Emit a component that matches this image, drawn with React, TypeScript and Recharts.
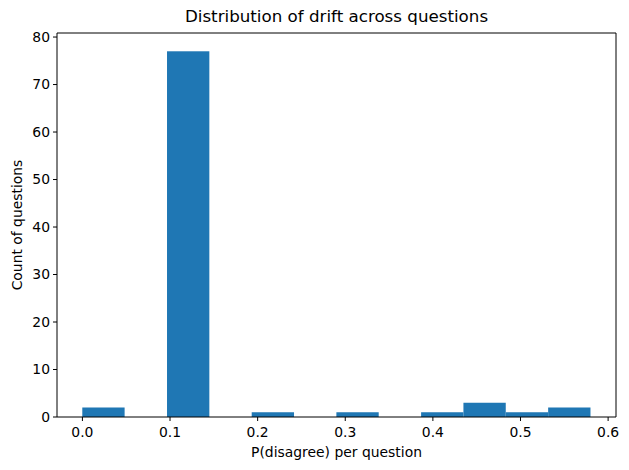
import { BarChart, Bar, XAxis, YAxis, Label, ReferenceLine } from 'recharts';

// histogram bin edges and counts
const binEdges = [0, 0.0483, 0.0967, 0.145, 0.1933, 0.2417, 0.29, 0.3383, 0.3867, 0.435, 0.4833, 0.5317, 0.58];
const counts = [2, 0, 77, 0, 1, 0, 1, 0, 1, 3, 1, 2];
const xTicks = [0, 0.1, 0.2, 0.3, 0.4, 0.5, 0.6];
const yTicks = [0, 10, 20, 30, 40, 50, 60, 70, 80];

const W = 629;
const H = 470;
const margin = { top: 33, right: 13, bottom: 0, left: 12 };
const yAxisWidth = 45;
const xAxisHeight = 53;
const xDomain = [-0.029, 0.609];
const yDomain = [0, 80.85];
const font = 'DejaVu Sans, sans-serif';

const data = counts.map((count, i) => ({
  center: (binEdges[i] + binEdges[i + 1]) / 2,
  count,
}));

const plotWidth = W - margin.left - margin.right - yAxisWidth;
const binWidthPx = ((binEdges[1] - binEdges[0]) / (xDomain[1] - xDomain[0])) * plotWidth;

const tickStyle = { fill: '#000', fontSize: 13.9, fontFamily: font };

// recharts shrinks the bar a bit on a number axis; redraw it at full bin width around its centre
const HistBar = (props: any) => {
  const { x, y, width, height, fill } = props;
  if (!height || height <= 0) return null;
  const cx = x + width / 2;
  return <rect x={cx - binWidthPx / 2} y={y} width={binWidthPx} height={height} fill={fill} />;
};

export default function App() {
  return (
    <div style={{ position: 'absolute', left: 0, top: 0, width: W, height: H, background: '#fff' }}>
      <div
        style={{
          position: 'absolute',
          left: margin.left + yAxisWidth,
          width: plotWidth,
          top: 5,
          textAlign: 'center',
          fontFamily: font,
          fontSize: 16.7,
          lineHeight: '22px',
          color: '#000',
        }}
      >
        Distribution of drift across questions
      </div>
      <BarChart width={W} height={H} data={data} margin={margin}>
        <XAxis
          dataKey="center"
          type="number"
          domain={xDomain}
          ticks={xTicks}
          allowDataOverflow
          height={xAxisHeight}
          tickFormatter={(v: number) => v.toFixed(1)}
          tick={tickStyle}
          tickSize={4}
          tickMargin={6}
          stroke="#000"
        >
          <Label
            content={({ viewBox }: any) => (
              <text
                x={viewBox.x + viewBox.width / 2}
                y={457}
                textAnchor="middle"
                fontSize={13.9}
                fontFamily={font}
                fill="#000"
              >
                P(disagree) per question
              </text>
            )}
          />
        </XAxis>
        <YAxis
          type="number"
          domain={yDomain}
          ticks={yTicks}
          allowDataOverflow
          width={yAxisWidth}
          tick={tickStyle}
          tickSize={4}
          tickMargin={3}
          stroke="#000"
        >
          <Label
            content={({ viewBox }: any) => {
              const cx = 17;
              const cy = viewBox.y + viewBox.height / 2;
              return (
                <text
                  x={cx}
                  y={cy}
                  transform={`rotate(-90 ${cx} ${cy})`}
                  textAnchor="middle"
                  dominantBaseline="central"
                  fontSize={13.9}
                  fontFamily={font}
                  fill="#000"
                >
                  Count of questions
                </text>
              );
            }}
          />
        </YAxis>
        <Bar dataKey="count" fill="#1f77b4" barSize={binWidthPx} shape={HistBar} isAnimationActive={false} />
        <ReferenceLine y={yDomain[1]} stroke="#000" ifOverflow="extendDomain" />
        <ReferenceLine x={xDomain[1]} stroke="#000" ifOverflow="extendDomain" />
      </BarChart>
    </div>
  );
}
